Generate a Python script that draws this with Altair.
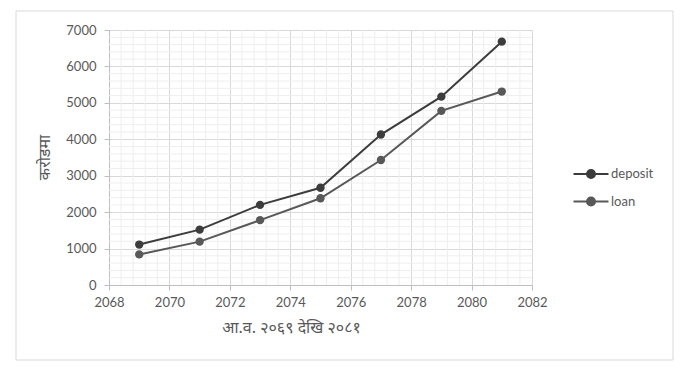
import altair as alt
import pandas as pd

# ---- data ----
years = [2069, 2071, 2073, 2075, 2077, 2079, 2081]
deposit = [1110, 1520, 2200, 2670, 4130, 5170, 6680]
loan = [840, 1190, 1780, 2380, 3430, 4780, 5310]
series = ["deposit", "loan"]
x_ticks = [2068, 2070, 2072, 2074, 2076, 2078, 2080, 2082]
y_ticks = [0, 1000, 2000, 3000, 4000, 5000, 6000, 7000]
x_title = "आ.व. २०६९ देखि २०८१"
y_title = "करोडमा"

df = pd.DataFrame({
    "year": years + years,
    "value": deposit + loan,
    "series": [series[0]] * len(years) + [series[1]] * len(years),
})

# minor gridline positions (styling helpers)
x_minor = [2068 + 0.4 * i for i in range(36) if i % 5 != 0]
y_minor = [200 * i for i in range(36) if i % 5 != 0]
xminor_df = pd.DataFrame({"v": x_minor})
yminor_df = pd.DataFrame({"v": y_minor})

LABEL_FONT = "Lato"
DEV_FONT = "Noto Sans Devanagari, Noto Sans, sans-serif"
TXT = "#595959"

xscale = alt.Scale(domain=[2068, 2082], nice=False, zero=False)
yscale = alt.Scale(domain=[0, 7000], nice=False)

x_axis = alt.Axis(
    values=x_ticks, format="d", title=x_title, grid=True, gridColor="#d9d9d9",
    domainColor="#bfbfbf", tickColor="#bfbfbf", tickSize=5, labelPadding=6,
    labelFlush=False, labelOverlap=False,
    labelFont=LABEL_FONT, labelFontSize=13, labelColor=TXT,
    titleFont=DEV_FONT, titleFontSize=16, titleColor=TXT, titleFontWeight="normal",
    titleX=182, titleY=42, titleBaseline="middle", titleAnchor="middle",
)
y_axis = alt.Axis(
    values=y_ticks, format="d", title=y_title, grid=True, gridColor="#d9d9d9",
    domainColor="#bfbfbf", tickColor="#bfbfbf", tickSize=5, labelPadding=8,
    labelFlush=False, labelOverlap=False,
    labelFont=LABEL_FONT, labelFontSize=13, labelColor=TXT,
    titleFont=DEV_FONT, titleFontSize=16, titleColor=TXT, titleFontWeight="normal",
    titleX=-57, titleY=127, titleAnchor="middle",
)

legend_path = "M-2,0L2,0M-0.46,0A0.46,0.46,0,1,1,0.46,0A0.46,0.46,0,1,1,-0.46,0Z"
color = alt.Color(
    "series:N",
    scale=alt.Scale(domain=series, range=["#3c3c3c", "#585858"]),
    legend=alt.Legend(
        title=None, orient="none", legendX=472, legendY=134, padding=0,
        symbolType=legend_path, symbolSize=306, symbolStrokeWidth=2,
        rowPadding=8.5, labelOffset=10, labelFont=LABEL_FONT,
        labelFontSize=13, labelColor=TXT,
    ),
)

frame = alt.Chart(pd.DataFrame({"a": [0]})).mark_rect(
    fill="transparent", stroke="#d9d9d9", strokeWidth=1
).encode(x=alt.value(-93), x2=alt.value(564), y=alt.value(-19), y2=alt.value(330))

xminor = alt.Chart(xminor_df).mark_rule(color="#eeeeee", strokeWidth=1).encode(
    x=alt.X("v:Q", scale=xscale, axis=x_axis)
)
yminor = alt.Chart(yminor_df).mark_rule(color="#eeeeee", strokeWidth=1).encode(
    y=alt.Y("v:Q", scale=yscale, axis=y_axis)
)

base = alt.Chart(df).encode(
    x=alt.X("year:Q", scale=xscale, axis=x_axis),
    y=alt.Y("value:Q", scale=yscale, axis=y_axis),
    color=color,
)
lines = base.mark_line(strokeWidth=2)
points = base.mark_point(filled=True, size=70, opacity=1, shape="circle")

chart = alt.layer(frame, xminor, yminor, lines, points).properties(
    width=423, height=255,
    autosize=alt.AutoSizeParams(type="none"),
    padding={"left": 101, "top": 22, "right": 150, "bottom": 78},
    background="white",
).configure_view(stroke="transparent")

chart.save("out.html", embed_options={"renderer": "svg", "actions": False})
